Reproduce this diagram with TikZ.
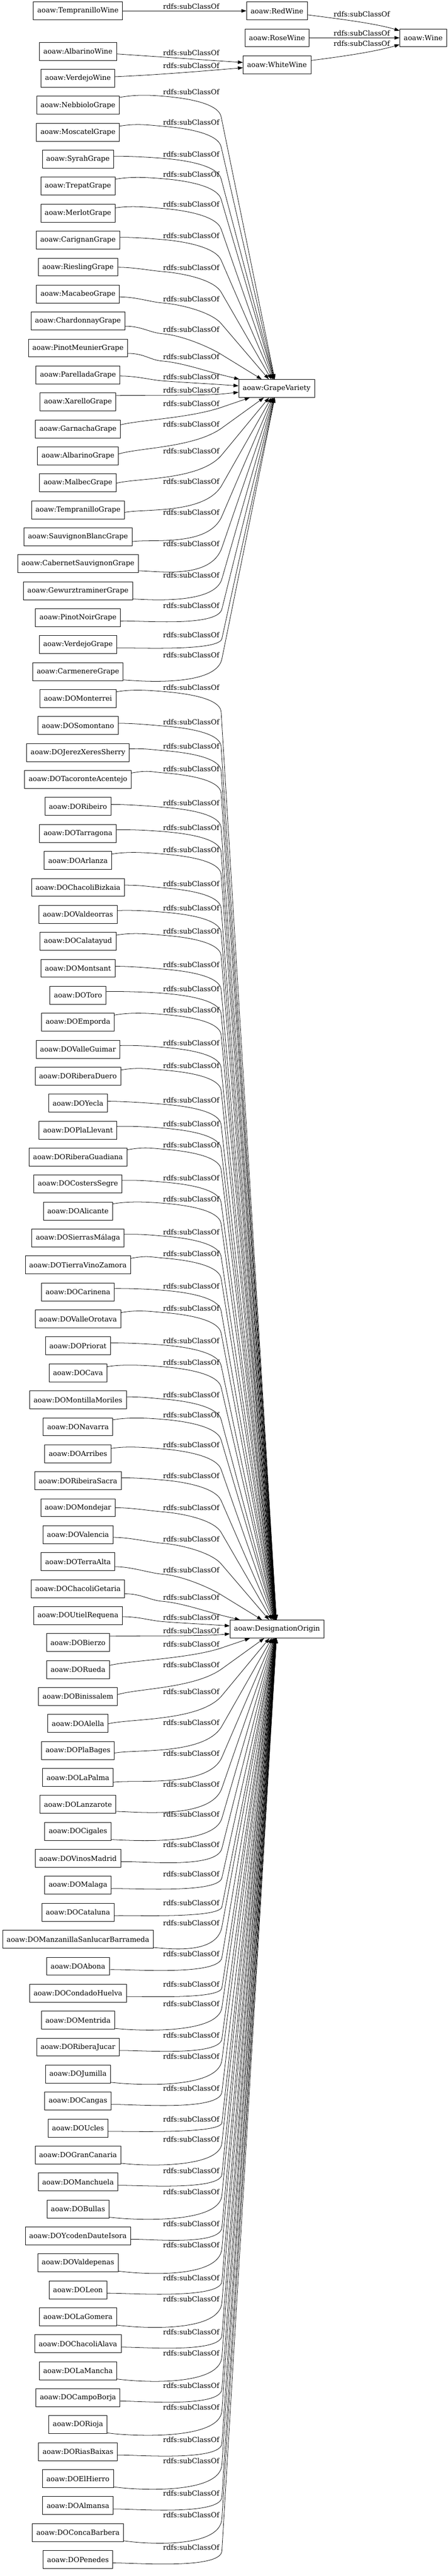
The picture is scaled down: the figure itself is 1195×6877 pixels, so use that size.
\documentclass[tikz,border=0pt]{standalone}
\usepackage{fontspec}
\setmainfont{DejaVu Serif}
\usetikzlibrary{arrows.meta,calc}
\tikzset{
  cls/.style={draw, line width=0.9pt, rectangle, minimum height=36pt, minimum width=54pt, inner xsep=8pt, inner ysep=0pt, font=\fontsize{14}{17}\selectfont},
  rlab/.style={inner sep=0pt, font=\fontsize{14}{17}\selectfont},
  rel/.style={draw, line width=0.8pt, -{Triangle[length=10pt,width=7pt]}}
}
\begin{document}
\begin{tikzpicture}[x=0.75pt,y=-0.75pt]
\useasboundingbox (0,0) rectangle (1195,6877);
% wine part
\node[cls] (tw) at (208,29) {aoaw:TempranilloWine};
\node[cls] (rw) at (739,29) {aoaw:RedWine};
\node[cls] (rsw) at (739,101) {aoaw:RoseWine};
\node[cls] (wine) at (1129,101) {aoaw:Wine};
\node[cls] (aw) at (208,137) {aoaw:AlbarinoWine};
\node[cls] (ww) at (739,173) {aoaw:WhiteWine};
\node[cls] (vw) at (208,209) {aoaw:VerdejoWine};
\node[cls] (gv) at (738,1037) {aoaw:GrapeVariety};
\node[cls] (do) at (739,4349) {aoaw:DesignationOrigin};

\node[rlab] (l1) at (510,17) {rdfs:subClassOf};
\node[rlab] (l2) at (965,37.7) {rdfs:subClassOf};
\node[rlab] (l3) at (965,89) {rdfs:subClassOf};
\node[rlab] (l4) at (965,115.7) {rdfs:subClassOf};
\node[rlab] (l5) at (510,141) {rdfs:subClassOf};
\node[rlab] (l6) at (510,175.7) {rdfs:subClassOf};

\draw[rel] (tw) -- (rw);
\draw[rel] (rw) .. controls (900,50) and (1000,62) .. (wine);
\draw[rel] (rsw) -- (wine);
\draw[rel] (ww) .. controls (920,150) and (1000,138) .. (wine);
\draw[rel] (aw) -- (ww);
\draw[rel] (vw) .. controls (420,200) and (540,190) .. (ww);

\foreach \nm/\tx/\ly [count=\j] in {
NebbioloGrape/NebbioloGrape/245.7,
MoscatelGrape/MoscatelGrape/326,
SyrahGrape/SyrahGrape/411.6,
TrepatGrape/TrepatGrape/466,
MerlotGrape/MerlotGrape/545.5,
CarignanGrape/CarignanGrape/628.6,
RieslingGrape/RieslingGrape/714,
MacabeoGrape/MacabeoGrape/797.8,
ChardonnayGrape/ChardonnayGrape/880,
PinotMeunierGrape/PinotMeunierGrape/953,
ParelladaGrape/ParelladaGrape/1005.7,
XarelloGrape/XarelloGrape/1041.8,
GarnachaGrape/GarnachaGrape/1077,
AlbarinoGrape/AlbarinoGrape/1132.5,
MalbecGrape/MalbecGrape/1204,
TempranilloGrape/TempranilloGrape/1285,
SauvignonBlancGrape/SauvignonBlancGrape/1368,
CabernetSauvignonGrape/CabernetSauvignonGrape/1452,
GewurztraminerGrape/GewurztraminerGrape/1535.5,
PinotNoirGrape/PinotNoirGrape/1616,
VerdejoGrape/VerdejoGrape/1695,
CarmenereGrape/CarmenereGrape/1749,
DOMonterrei/DOMonterrei/1835,
DOSomontano/DOSomontano/1927,
DOJerezXeresSherry/DOJerezXeresSherry/1992.6,
DOTacoronteAcentejo/DOTacoronteAcentejo/2052,
DORibeiro/DORibeiro/2143.8,
DOTarragona/DOTarragona/2208.8,
DOArlanza/DOArlanza/2268.8,
DOChacoliBizkaia/DOChacoliBizkaia/2359,
DOValdeorras/DOValdeorras/2424,
DOCalatayud/DOCalatayud/2485.6,
DOMontsant/DOMontsant/2576,
DOToro/DOToro/2640.6,
DOEmporda/DOEmporda/2697,
DOValleGuimar/DOValleGuimar/2784.7,
DORiberaDuero/DORiberaDuero/2845.5,
DOYecla/DOYecla/2936.7,
DOPlaLlevant/DOPlaLlevant/3000.5,
DORiberaGuadiana/DORiberaGuadiana/3056.6,
DOCostersSegre/DOCostersSegre/3144.6,
DOAlicante/DOAlicante/3201,
DOSierrasMalaga/DOSierrasMálaga/3288.7,
DOTierraVinoZamora/DOTierraVinoZamora/3347.4,
DOCarinena/DOCarinena/3433.5,
DOValleOrotava/DOValleOrotava/3492.8,
DOPriorat/DOPriorat/3579.6,
DOCava/DOCava/3637.6,
DOMontillaMoriles/DOMontillaMoriles/3723.7,
DONavarra/DONavarra/3778,
DOArribes/DOArribes/3857,
DORibeiraSacra/DORibeiraSacra/3940,
DOMondejar/DOMondejar/4025,
DOValencia/DOValencia/4109,
DOTerraAlta/DOTerraAlta/4191.5,
DOChacoliGetaria/DOChacoliGetaria/4264,
DOUtielRequena/DOUtielRequena/4318,
DOBierzo/DOBierzo/4353.6,
DORueda/DORueda/4389,
DOBinissalem/DOBinissalem/4445,
DOAlella/DOAlella/4516.6,
DOPlaBages/DOPlaBages/4598,
DOLaPalma/DOLaPalma/4681,
DOLanzarote/DOLanzarote/4763.5,
DOCigales/DOCigales/4844,
DOVinosMadrid/DOVinosMadrid/4924.5,
DOMalaga/DOMalaga/5003,
DOCataluna/DOCataluna/5080.5,
DOManzanillaSanlucarBarrameda/DOManzanillaSanlucarBarrameda/5134,
DOAbona/DOAbona/5216,
DOCondadoHuelva/DOCondadoHuelva/5296.6,
DOMentrida/DOMentrida/5349.5,
DORiberaJucar/DORiberaJucar/5433,
DOJumilla/DOJumilla/5490,
DOCangas/DOCangas/5575,
DOUcles/DOUcles/5657,
DOGranCanaria/DOGranCanaria/5711.5,
DOManchuela/DOManchuela/5795,
DOBullas/DOBullas/5851,
DOYcodenDauteIsora/DOYcodenDauteIsora/5936.5,
DOValdepenas/DOValdepenas/5993,
DOLeon/DOLeon/6080.7,
DOLaGomera/DOLaGomera/6137.4,
DOChacoliAlava/DOChacoliAlava/6225,
DOLaMancha/DOLaMancha/6282,
DOCampoBorja/DOCampoBorja/6368,
DORioja/DORioja/6426,
DORiasBaixas/DORiasBaixas/6513,
DOElHierro/DOElHierro/6570,
DOAlmansa/DOAlmansa/6656,
DOConcaBarbera/DOConcaBarbera/6714,
DOPenedes/DOPenedes/6800}{
  \pgfmathsetmacro\qyc{281+72*(\j-1)}
  \node[cls] (\nm) at (208,\qyc) {aoaw:\tx};
  \node[rlab] (L\nm) at (510,\ly) {rdfs:subClassOf};
  \ifnum\j<23 \def\qtg{gv}\def\qxT{738}\def\qyT{1037}\else\def\qtg{do}\def\qxT{739}\def\qyT{4349}\fi
  \pgfmathtruncatemacro\qdown{\qyc<\qyT}
  \ifnum\qdown=1
    \pgfmathsetmacro\qdys{max(-21,min(21,0.6*(\ly-\qyc)))}
    \pgfmathsetmacro\qcdy{-8*max(0,min(1,(\qyc-\ly-15)/10))}
    \pgfmathsetmacro\qgy{\ly+11}
    \pgfmathsetmacro\qgyb{\qgy-2.8}
    \pgfmathsetmacro\qgyc{\qgy+4}
    \pgfmathsetmacro\qky{\qgy+min(55,0.5*(\qyT-\qgy))}
    \pgfmathsetmacro\qan{atan2(\qyT-\qky,\qxT-590)}
    \pgfmathsetmacro\qcx{590-40*cos(\qan)}
    \pgfmathsetmacro\qcy{\qky-40*sin(\qan)}
    \draw[rel] ($(\nm.east)+(0,\qdys)$) .. controls +(45,\qcdy) and (399,\qgyb) .. (434,\qgy) .. controls (484,\qgyc) and (\qcx,\qcy) .. (590,\qky) -- (\qtg);
  \else
    \pgfmathsetmacro\qgy{\ly+10}
    \pgfmathsetmacro\qee{\qyc-\qgy}
    \pgfmathsetmacro\qan{atan2(\qyT-\qgy,\qxT-592)}
    \pgfmathsetmacro\qux{cos(\qan)}
    \pgfmathsetmacro\quy{sin(\qan)}
    \pgfmathsetmacro\qocap{(\qee>=28)?22:9}
    \pgfmathsetmacro\qoo{max(-21,min(-20+0.083*(\qyc-\qyT),\qocap))}
    \pgfmathsetmacro\qbump{(\qoo>15)?10:0}
    \pgfmathsetmacro\qdel{\qux*0.3*(\qgy-\qyc-\qoo)+(1-\qux)*\qbump}
    \pgfmathsetmacro\qlam{max(30,min(90,2.2*\qee))}
    \pgfmathsetmacro\qcx{592-\qlam*\qux}
    \pgfmathsetmacro\qcy{\qgy-\qlam*\quy}
    \draw[rel] ($(\nm.east)+(0,\qoo)$) .. controls +(55,\qdel) and (\qcx,\qcy) .. (592,\qgy) -- (\qtg);
  \fi
}
\end{tikzpicture}
\end{document}
